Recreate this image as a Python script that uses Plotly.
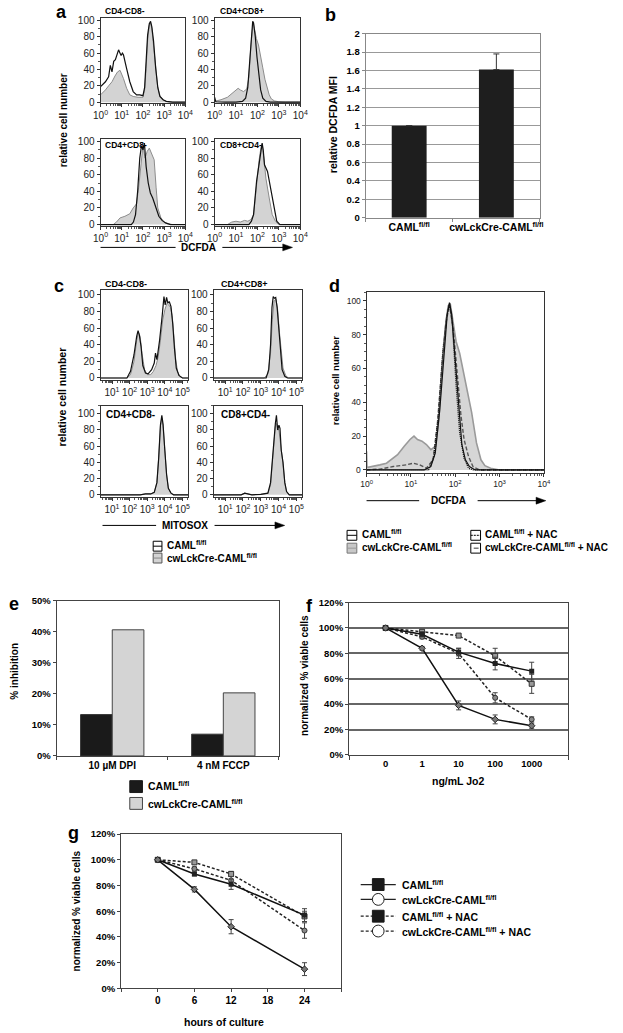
import plotly.graph_objects as go

W, H = 623, 1033
FONT = "Liberation Sans, Arial, Helvetica, sans-serif"

# ======================= DATA =======================
# ---- panel a : DCFDA histograms (x = log10 fluorescence, y = relative cell number)
A_TITLES = ["CD4-CD8-", "CD4+CD8+", "CD4+CD8-", "CD8+CD4-"]
A1_FILL_X = [0, 0.12, 0.23, 0.38, 0.54, 0.68, 0.8, 0.92, 1.08, 1.23, 1.38, 1.54, 1.77, 2.0, 2.08, 2.15, 2.22, 2.3, 2.36, 2.42, 2.5, 2.6, 2.7, 2.8, 2.95, 3.1, 3.4, 4.0]
A1_FILL_Y = [9, 12, 15, 20, 25, 32, 37, 39, 29, 17, 9, 7, 6, 6, 15, 41, 75, 94, 97, 90, 70, 40, 18, 8, 3, 1, 0, 0]
A1_LINE_X = [0, 0.12, 0.23, 0.38, 0.46, 0.54, 0.62, 0.7, 0.78, 0.85, 0.92, 0.97, 1.03, 1.08, 1.23, 1.38, 1.54, 1.7, 1.85, 2.0, 2.08, 2.15, 2.22, 2.3, 2.36, 2.42, 2.5, 2.6, 2.7, 2.8, 2.95, 3.1, 3.4, 4.0]
A1_LINE_Y = [19, 22, 25, 31, 45, 37, 50, 52, 58, 64, 60, 57, 60, 58, 41, 25, 13, 9, 9, 8, 18, 51, 82, 96, 99, 92, 75, 42, 18, 7, 3, 1, 0, 0]

A2_FILL_X = [0, 0.3, 0.6, 0.85, 1.0, 1.1, 1.2, 1.35, 1.5, 1.6, 1.7, 1.76, 1.8, 1.86, 1.95, 2.05, 2.15, 2.25, 2.35, 2.45, 2.55, 2.65, 2.8, 3.0, 3.3, 4.0]
A2_FILL_Y = [1, 3, 6, 11, 15, 17, 15, 13, 16, 30, 70, 95, 98, 90, 78, 70, 58, 42, 28, 17, 9, 4, 1.5, 0.5, 0, 0]
A2_LINE_X = [0, 0.02, 0.06, 0.5, 1.0, 1.3, 1.45, 1.55, 1.65, 1.72, 1.78, 1.82, 1.9, 1.98, 2.05, 2.15, 2.25, 2.4, 2.6, 4.0]
A2_LINE_Y = [6, 2, 0.5, 0, 0, 1, 5, 18, 55, 88, 99, 97, 80, 55, 35, 15, 5, 1, 0, 0]

A3_FILL_X = [0, 0.6, 0.75, 0.92, 1.15, 1.38, 1.54, 1.7, 1.8, 1.9, 2.0, 2.1, 2.2, 2.3, 2.42, 2.53, 2.62, 2.7, 2.85, 3.0, 3.15, 3.4, 4.0]
A3_FILL_Y = [0, 0, 3, 8, 10, 13, 20, 25, 45, 75, 95, 80, 88, 92, 85, 78, 45, 20, 8, 3, 1, 0, 0]
A3_LINE_X = [0, 1.45, 1.55, 1.65, 1.75, 1.85, 1.93, 2.0, 2.07, 2.15, 2.25, 2.35, 2.46, 2.6, 2.75, 2.9, 3.07, 3.3, 4.0]
A3_LINE_Y = [0, 0, 3, 12, 40, 80, 95, 90, 98, 70, 50, 38, 32, 20, 10, 5, 2, 0, 0]

A4_FILL_X = [0, 0.6, 0.8, 1.0, 1.2, 1.4, 1.55, 1.7, 1.82, 1.96, 2.08, 2.16, 2.22, 2.3, 2.4, 2.55, 2.69, 2.84, 3.0, 4.0]
A4_FILL_Y = [0, 0, 3, 4, 3, 5, 4, 6, 12, 50, 78, 92, 97, 80, 55, 32, 12, 4, 0, 0]
A4_LINE_X = [0, 1.6, 1.72, 1.82, 1.96, 2.11, 2.18, 2.22, 2.27, 2.33, 2.47, 2.55, 2.62, 2.76, 2.9, 3.05, 4.0]
A4_LINE_Y = [0, 0, 4, 12, 52, 80, 92, 98, 90, 72, 64, 52, 42, 20, 4, 0, 0]

# ---- panel b : relative DCFDA MFI
B_GROUPS = ["CAML<sup>fl/fl</sup>", "cwLckCre-CAML<sup>fl/fl</sup>"]
B_VALUES = [1.0, 1.61]
B_ERR = [None, 0.17]

# ---- panel c : MITOSOX histograms
C1_FILL_X = [0.35, 1.85, 2.05, 2.25, 2.4, 2.5, 2.6, 2.7, 2.85, 3.0, 3.2, 3.35, 3.5, 3.62, 3.75, 3.88, 4.0, 4.12, 4.22, 4.32, 4.42, 4.52, 4.62, 4.72, 4.85, 5.0, 5.33]
C1_FILL_Y = [0, 0, 4, 20, 45, 55, 50, 30, 10, 4, 4, 8, 15, 25, 45, 70, 82, 90, 88, 85, 75, 50, 22, 8, 2, 0, 0]
C1_LINE_X = [0.35, 1.85, 2.05, 2.25, 2.4, 2.48, 2.55, 2.65, 2.75, 2.9, 3.05, 3.25, 3.4, 3.47, 3.55, 3.7, 3.85, 3.95, 4.02, 4.1, 4.17, 4.25, 4.35, 4.45, 4.55, 4.65, 4.8, 5.0, 5.33]
C1_LINE_Y = [0, 0, 8, 28, 50, 57, 52, 38, 15, 6, 5, 10, 18, 30, 22, 45, 75, 98, 88, 97, 90, 92, 86, 65, 35, 12, 3, 0, 0]

C2_FILL_X = [0.35, 3.2, 3.4, 3.55, 3.65, 3.75, 3.85, 3.95, 4.05, 4.15, 4.25, 4.4, 4.55, 5.33]
C2_FILL_Y = [0, 0, 5, 30, 70, 93, 95, 82, 55, 30, 12, 3, 0, 0]
C2_LINE_X = [0.35, 3.3, 3.45, 3.55, 3.63, 3.7, 3.77, 3.84, 3.92, 4.0, 4.1, 4.2, 4.35, 4.5, 5.33]
C2_LINE_Y = [0, 0, 10, 40, 85, 98, 96, 97, 85, 60, 30, 10, 2, 0, 0]

C3_X = [0.35, 2.6, 2.9, 3.2, 3.4, 3.55, 3.65, 3.75, 3.83, 3.9, 4.0, 4.1, 4.2, 4.35, 4.5, 5.33]
C3_FILL_Y = [0, 0, 1, 1, 3, 15, 45, 85, 95, 85, 55, 25, 8, 2, 0, 0]
C3_LINE_Y = [0, 0, 1, 1, 3, 15, 45, 86, 98, 87, 55, 25, 8, 2, 0, 0]

C4_X = [0.35, 1.9, 2.1, 2.3, 2.5, 3.0, 3.4, 3.55, 3.65, 3.75, 3.82, 3.88, 3.95, 4.02, 4.08, 4.15, 4.25, 4.35, 4.45, 4.6, 5.33]
C4_FILL_Y = [0, 0, 2, 1, 0, 0.5, 2, 12, 40, 72, 85, 88, 82, 80, 70, 55, 38, 15, 4, 0, 0]
C4_LINE_Y = [0, 0, 2, 1, 0, 0.5, 2, 15, 45, 75, 88, 98, 80, 86, 82, 55, 40, 15, 4, 0, 0]

# ---- panel d : DCFDA histograms with NAC
D_FILL_X = [0, 0.01, 0.03, 0.15, 0.3, 0.45, 0.56, 0.7, 0.85, 0.98, 1.07, 1.15, 1.25, 1.35, 1.45, 1.56, 1.63, 1.7, 1.78, 1.84, 1.89, 1.95, 2.02, 2.1, 2.18, 2.26, 2.37, 2.48, 2.58, 2.67, 2.8, 3.0, 4.0]
D_FILL_Y = [11, 2, 1.5, 2, 3, 4, 6, 9, 14, 18, 20, 18, 17, 15, 12, 14, 30, 59, 85, 97, 98, 88, 76, 69, 58, 49, 34, 16, 6, 2.5, 1, 0, 0]
D_CAML_X = [0, 1.3, 1.45, 1.55, 1.65, 1.75, 1.82, 1.87, 1.92, 2.0, 2.08, 2.15, 2.23, 2.32, 2.45, 4.0]
D_CAML_Y = [0, 0, 2, 10, 35, 72, 92, 99, 92, 65, 35, 15, 6, 2, 0, 0]
D_CAMLNAC_X = [0, 0.3, 0.6, 0.9, 1.05, 1.2, 1.35, 1.5, 1.6, 1.72, 1.8, 1.87, 1.95, 2.05, 2.13, 2.2, 2.3, 2.4, 2.55, 4.0]
D_CAMLNAC_Y = [0, 0.5, 2, 3, 4, 3, 1, 6, 28, 68, 88, 98, 85, 55, 32, 18, 8, 2, 0, 0]
D_CWNAC_X = [0, 1.4, 1.52, 1.62, 1.72, 1.8, 1.87, 1.94, 2.02, 2.1, 2.2, 2.3, 2.4, 4.0]
D_CWNAC_Y = [0, 0, 8, 32, 70, 90, 98, 85, 50, 22, 7, 1, 0, 0]

# ---- panel e : % inhibition
E_CATS = ["10 µM DPI", "4 nM FCCP"]
E_CAML = [13.3, 7.0]
E_CW = [40.6, 20.3]

# ---- panel f : viability vs Jo2
F_CATS = ["0", "1", "10", "100", "1000"]
F_CAML = [100, 95, 81, 72, 66]
F_CAML_ERR = [0, 2, 3, 5, 7]
F_CW = [100, 84, 39, 28, 23]
F_CW_ERR = [0, 1.5, 3.5, 3.5, 2]
F_CAML_NAC = [100, 97, 94, 78, 56]
F_CAML_NAC_ERR = [0, 1.5, 1.5, 6, 7.5]
F_CW_NAC = [100, 93, 80, 45, 28]
F_CW_NAC_ERR = [0, 1.5, 4, 4, 2]

# ---- panel g : viability vs time
G_HOURS = [0, 6, 12, 24]
G_TICKS = [0, 6, 12, 18, 24]
G_CAML = [100, 89, 81, 57]
G_CAML_ERR = [0, 1.5, 4, 5]
G_CW = [100, 77, 48, 15]
G_CW_ERR = [0, 2, 5.5, 5]
G_CAML_NAC = [100, 98, 89, 56]
G_CAML_NAC_ERR = [0, 1, 2, 4]
G_CW_NAC = [100, 93, 84, 45]
G_CW_NAC_ERR = [0, 1.5, 3, 6]

LEG_NAMES = ["CAML<sup>fl/fl</sup>", "cwLckCre-CAML<sup>fl/fl</sup>",
             "CAML<sup>fl/fl</sup> + NAC", "cwLckCre-CAML<sup>fl/fl</sup> + NAC"]

# ======================= HELPERS =======================
fig = go.Figure()
layout = {}
shapes = []
annotations = []


def px(x):
    return x / W


def py(y):
    return 1 - y / H


def axname(n):
    return ("x", "y") if n == 1 else (f"x{n}", f"y{n}")


def add_axes(n, x0, x1, y0, y1, xo, yo):
    xa, ya = axname(n)
    layout["xaxis" if n == 1 else f"xaxis{n}"] = dict(domain=[px(x0), px(x1)], anchor=ya, **xo)
    layout["yaxis" if n == 1 else f"yaxis{n}"] = dict(domain=[py(y1), py(y0)], anchor=xa, **yo)


def text(x, y, t, size=10, bold=True, angle=0, xanchor="center", color="black"):
    annotations.append(dict(x=px(x), y=py(y), xref="paper", yref="paper", text=t, showarrow=False,
                            textangle=angle, xanchor=xanchor, yanchor="middle",
                            font=dict(size=size, family=FONT, color=color,
                                      weight="bold" if bold else "normal")))


def hline(x0, x1, y, color="black", width=1, dash="solid"):
    shapes.append(dict(type="line", xref="paper", yref="paper", x0=px(x0), x1=px(x1), y0=py(y), y1=py(y),
                       line=dict(color=color, width=width, dash=dash)))


def rect(x0, x1, y0, y1, fill="white", color="black", width=1):
    shapes.append(dict(type="rect", xref="paper", yref="paper", x0=px(x0), x1=px(x1), y0=py(y1), y1=py(y0),
                       fillcolor=fill, line=dict(color=color, width=width)))


def arrow(x0, x1, xt0, xt1, y, label):
    hline(x0, x1, y, width=1)
    hline(xt0, xt1 - 8, y, width=1)
    path = f"M {px(xt1 - 10)} {py(y - 3.5)} L {px(xt1)} {py(y)} L {px(xt1 - 10)} {py(y + 3.5)} Z"
    shapes.append(dict(type="path", xref="paper", yref="paper", path=path, fillcolor="black",
                       line=dict(color="black", width=0.5)))
    text((x1 + xt0) / 2, y, label, size=10)


def hist(n, xd, yv, kind):
    xa, ya = axname(n)
    xs = [10 ** v for v in xd]
    if kind == "fill":
        fig.add_trace(go.Scatter(x=xs, y=yv, xaxis=xa, yaxis=ya, mode="lines", fill="tozeroy",
                                 fillcolor="#d3d3d3", line=dict(color="#8c8c8c", width=1), showlegend=False))
    elif kind == "fill2":
        fig.add_trace(go.Scatter(x=xs, y=yv, xaxis=xa, yaxis=ya, mode="lines", fill="tozeroy",
                                 fillcolor="#d6d6d6", line=dict(color="#9a9a9a", width=1.6), showlegend=False))
    elif kind == "dash":
        fig.add_trace(go.Scatter(x=xs, y=yv, xaxis=xa, yaxis=ya, mode="lines",
                                 line=dict(color="#555555", width=1.4, dash="4px,2px"), showlegend=False))
    elif kind == "dot":
        fig.add_trace(go.Scatter(x=xs, y=yv, xaxis=xa, yaxis=ya, mode="lines",
                                 line=dict(color="#111111", width=1.3, dash="1px,1px"), showlegend=False))
    else:
        fig.add_trace(go.Scatter(x=xs, y=yv, xaxis=xa, yaxis=ya, mode="lines",
                                 line=dict(color="#111111", width=1.2), showlegend=False))


def minor_vals(lo, hi):
    return [m * 10 ** d for d in range(lo, hi) for m in range(2, 10)]


def hist_axes(n, x0, x1, y0, y1, xrange, tick_exps, yrange, font=10):
    xo = dict(type="log", range=xrange, showline=True, mirror=True, linecolor="#333", linewidth=1,
              ticks="outside", ticklen=3, tickcolor="#333", showgrid=False, zeroline=False,
              tickvals=[10 ** e for e in tick_exps],
              ticktext=[f"10<sup>{e}</sup>" for e in tick_exps],
              tickfont=dict(size=font, family=FONT, color="#222"),
              minor=dict(tickvals=minor_vals(int(xrange[0]) - 1, int(xrange[1]) + 1), ticks="outside",
                         ticklen=2, tickcolor="#555", showgrid=False))
    yo = dict(range=yrange, showline=True, mirror=True, linecolor="#333", linewidth=1, ticks="outside",
              ticklen=3, tickcolor="#333", showgrid=False, zeroline=False, tickvals=[0, 20, 40, 60, 80, 100],
              tickfont=dict(size=font, family=FONT, color="#222"),
              minor=dict(dtick=10, ticks="outside", ticklen=2, tickcolor="#555", showgrid=False))
    add_axes(n, x0, x1, y0, y1, xo, yo)


BOLD9 = dict(size=9.5, family=FONT, color="black", weight="bold")

# ======================= PANEL a =======================
A_BOXES = [(95, 182, 11.7, 98.3), (212, 300, 11.7, 98.3), (95, 182, 134, 222), (212, 300, 134, 222)]
A_DATA = [(A1_FILL_X, A1_FILL_Y, A1_LINE_X, A1_LINE_Y), (A2_FILL_X, A2_FILL_Y, A2_LINE_X, A2_LINE_Y),
          (A3_FILL_X, A3_FILL_Y, A3_LINE_X, A3_LINE_Y), (A4_FILL_X, A4_FILL_Y, A4_LINE_X, A4_LINE_Y)]
for i, (b, d) in enumerate(zip(A_BOXES, A_DATA)):
    n = i + 1
    hist_axes(n, *b, [0, 4], [0, 1, 2, 3, 4], [-1.3, 103.5])
    hist(n, d[0], d[1], "fill")
    hist(n, d[2], d[3], "line")
text(97, 5, A_TITLES[0], size=8.5, xanchor="left")
text(216, 5, A_TITLES[1], size=8.5, xanchor="left")
text(98, 141, A_TITLES[2], size=8.5, xanchor="left")
text(216, 141, A_TITLES[3], size=8.5, xanchor="left")
text(57, 116, "relative cell number", size=10, angle=-90)
arrow(95, 172, 220, 292, 244, "DCFDA")

# ======================= PANEL b =======================
add_axes(5, 367, 546, 28, 214,
         dict(type="category", showline=True, mirror=True, linecolor="#888", linewidth=1, ticks="outside",
              tickson="boundaries", ticklen=3, tickcolor="#888", showgrid=False, tickangle=0,
              tickfont=dict(size=10.5, family=FONT, color="black", weight="bold")),
         dict(range=[0, 2], dtick=0.2, showline=True, mirror=True, linecolor="#888", linewidth=1,
              ticks="outside", ticklen=3, tickcolor="#888", showgrid=True, gridcolor="#999", gridwidth=1,
              zeroline=False, tickfont=BOLD9))
fig.add_trace(go.Bar(x=B_GROUPS, y=B_VALUES, xaxis="x5", yaxis="y5", width=0.4,
                     marker=dict(color="#1e1e1e", line=dict(width=0)), showlegend=False,
                     error_y=dict(type="data", symmetric=False, array=B_ERR, arrayminus=[None, 0],
                                  color="#333", thickness=1, width=3)))
text(333, 120, "relative DCFDA MFI", size=10.5, angle=-90)

# ======================= PANEL c =======================
C_BOXES = [(95, 185, 287, 378), (211, 302, 287, 378), (95, 185, 404, 496), (211, 302, 404, 496)]
C_DATA = [(C1_FILL_X, C1_FILL_Y, C1_LINE_X, C1_LINE_Y), (C2_FILL_X, C2_FILL_Y, C2_LINE_X, C2_LINE_Y),
          (C3_X, C3_FILL_Y, C3_X, C3_LINE_Y), (C4_X, C4_FILL_Y, C4_X, C4_LINE_Y)]
C_YR = [[-2.4, 106], [-2.4, 106], [-2.4, 110], [-2.4, 110]]
for i, (b, d) in enumerate(zip(C_BOXES, C_DATA)):
    n = 6 + i
    hist_axes(n, *b, [0.35, 5.33], [1, 2, 3, 4, 5], C_YR[i])
    hist(n, d[0], d[1], "fill")
    hist(n, d[2], d[3], "line")
text(97, 281, A_TITLES[0], size=9, xanchor="left")
text(217, 281, A_TITLES[1], size=9, xanchor="left")
text(99, 413, A_TITLES[2], size=10, xanchor="left")
text(217, 413, A_TITLES[3], size=10, xanchor="left")
text(55, 395, "relative cell number", size=10.5, angle=-90)
arrow(97, 152, 212, 284, 525, "MITOSOX")
rect(149, 158, 541, 551)
hline(149, 158, 546)
text(161, 545, LEG_NAMES[0], size=10, xanchor="left")
rect(149, 158, 553, 563, fill="#d3d3d3", color="#555")
hline(149, 158, 558, color="#888")
text(161, 558, LEG_NAMES[1], size=10, xanchor="left")

# ======================= PANEL d =======================
hist_axes(10, 368, 550, 289, 472, [0, 4], [0, 1, 2, 3, 4], [-1.8, 105.3], font=8.5)
layout["yaxis10"]["minor"]["dtick"] = 5
hist(10, D_FILL_X, D_FILL_Y, "fill2")
hist(10, D_CAMLNAC_X, D_CAMLNAC_Y, "dash")
hist(10, D_CWNAC_X, D_CWNAC_Y, "dot")
hist(10, D_CAML_X, D_CAML_Y, "line")
text(337, 378, "relative cell number", size=9.5, angle=-90)
arrow(368, 422, 482, 552, 500, "DCFDA")
rect(348, 358, 530, 540)
hline(348, 358, 535)
text(361, 534, LEG_NAMES[0], size=10, xanchor="left")
rect(348, 358, 543, 553, fill="#c8c8c8", color="#777")
hline(348, 358, 548, color="#999")
text(361, 547, LEG_NAMES[1], size=10, xanchor="left")
rect(475, 485, 530, 540)
hline(475, 485, 535, dash="2px,1px")
text(488, 534, LEG_NAMES[2], size=10, xanchor="left")
rect(475, 485, 543, 553)
hline(478, 483, 548, width=0.8)
text(488, 547, LEG_NAMES[3], size=10, xanchor="left")

# ======================= PANEL e =======================
add_axes(11, 50, 278, 601, 758,
         dict(type="category", showline=True, mirror=True, linecolor="#444", linewidth=1, ticks="outside",
              tickson="boundaries", ticklen=3, tickcolor="#444", showgrid=False, tickangle=0,
              tickfont=dict(size=10, family=FONT, color="black", weight="bold")),
         dict(range=[0, 50], dtick=10, ticksuffix="%", showline=True, mirror=True, linecolor="#444",
              linewidth=1, ticks="outside", ticklen=3, tickcolor="#444", showgrid=False, zeroline=False,
              tickfont=BOLD9))
fig.add_trace(go.Bar(x=E_CATS, y=E_CAML, xaxis="x11", yaxis="y11", showlegend=False,
                     marker=dict(color="#1a1a1a", line=dict(color="#333", width=1))))
fig.add_trace(go.Bar(x=E_CATS, y=E_CW, xaxis="x11", yaxis="y11", showlegend=False,
                     marker=dict(color="#d4d4d4", line=dict(color="#444", width=1))))
text(7, 672, "% inhibition", size=10, angle=-90)
rect(125, 138, 783, 795, fill="#1a1a1a", color="#1a1a1a")
text(142, 788, LEG_NAMES[0], size=10.5, xanchor="left")
rect(125, 138, 800, 812, fill="#d4d4d4", color="#444")
text(142, 806, LEG_NAMES[1], size=10.5, xanchor="left")

# ======================= PANEL f =======================
add_axes(12, 350, 575, 603, 757,
         dict(range=[-1, 5], tickvals=list(range(len(F_CATS))), ticktext=F_CATS,
              showline=True, mirror=True, linecolor="#444", linewidth=1, ticks="", showgrid=False,
              zeroline=False, tickfont=BOLD9,
              minor=dict(tickvals=[-1, 5], ticks="outside", ticklen=4, tickcolor="#444", showgrid=False)),
         dict(range=[0, 120], dtick=20, ticksuffix="%", showline=True, mirror=True, linecolor="#444",
              linewidth=1, ticks="outside", ticklen=3, tickcolor="#444", showgrid=True,
              gridcolor="#666", gridwidth=1.5, zeroline=False, tickfont=BOLD9))

SERIES_STYLE = [
    dict(line=dict(color="#111", width=1.5), marker=dict(symbol="square", size=5, color="#222")),
    dict(line=dict(color="#111", width=1.5), marker=dict(symbol="diamond", size=5, color="#777",
                                                          line=dict(color="#222", width=1))),
    dict(line=dict(color="#222", width=1.5, dash="3px,2px"), marker=dict(symbol="square", size=5, color="#999",
                                                                       line=dict(color="#333", width=1))),
    dict(line=dict(color="#222", width=1.5, dash="3px,2px"), marker=dict(symbol="circle", size=5, color="#888",
                                                                       line=dict(color="#333", width=1))),
]
F_X = list(range(len(F_CATS)))
for vals, errs, st in zip([F_CAML_NAC, F_CW_NAC, F_CAML, F_CW],
                          [F_CAML_NAC_ERR, F_CW_NAC_ERR, F_CAML_ERR, F_CW_ERR],
                          [SERIES_STYLE[2], SERIES_STYLE[3], SERIES_STYLE[0], SERIES_STYLE[1]]):
    fig.add_trace(go.Scatter(x=F_X, y=vals, xaxis="x12", yaxis="y12", mode="lines+markers", showlegend=False,
                             error_y=dict(type="data", array=errs, color="#444", thickness=1, width=2.5), **st))
text(305, 677, "normalized % viable cells", size=10, angle=-90)
text(462, 783, "ng/mL Jo2", size=10.5)

# ======================= PANEL g =======================
add_axes(13, 116, 342, 837, 993,
         dict(range=[-6, 30], tickvals=G_TICKS, showline=True, mirror=True, linecolor="#444", linewidth=1,
              ticks="outside", ticklen=3, tickcolor="#444", showgrid=False, zeroline=False,
              tickfont=dict(size=10, family=FONT, color="black", weight="bold"),
              minor=dict(tickvals=[-6, 30], ticks="outside", ticklen=3, tickcolor="#444", showgrid=False)),
         dict(range=[0, 120], dtick=20, ticksuffix="%", showline=True, mirror=True, linecolor="#444",
              linewidth=1, ticks="outside", ticklen=3, tickcolor="#444", showgrid=False, zeroline=False,
              tickfont=BOLD9))
for vals, errs, st in zip([G_CAML_NAC, G_CW_NAC, G_CAML, G_CW],
                          [G_CAML_NAC_ERR, G_CW_NAC_ERR, G_CAML_ERR, G_CW_ERR],
                          [SERIES_STYLE[2], SERIES_STYLE[3], SERIES_STYLE[0], SERIES_STYLE[1]]):
    fig.add_trace(go.Scatter(x=G_HOURS, y=vals, xaxis="x13", yaxis="y13", mode="lines+markers", showlegend=False,
                             error_y=dict(type="data", array=errs, color="#444", thickness=1, width=2.5), **st))
text(70, 915, "normalized % viable cells", size=10, angle=-90)
text(222, 1027, "hours of culture", size=10.5)

# legend g (drawn)
LEG_Y = [888, 903, 920, 935]
for k, yy in enumerate(LEG_Y):
    dash = "solid" if k < 2 else "3px,2px"
    hline(362, 398, yy, color="#222", width=1.2, dash=dash)
    if k % 2 == 0:
        shapes.append(dict(type="rect", xref="paper", yref="paper", x0=px(374), x1=px(386), y0=py(yy + 6),
                           y1=py(yy - 6), fillcolor="#1a1a1a", line=dict(color="#1a1a1a", width=1)))
    else:
        shapes.append(dict(type="circle", xref="paper", yref="paper", x0=px(374), x1=px(386),
                           y0=py(yy + 6), y1=py(yy - 6), fillcolor="white", line=dict(color="#222", width=1)))
    text(402, yy, LEG_NAMES[k], size=10.5, xanchor="left")

# panel letters
for lt, (xx, yy) in zip("abcdefg", [(55, 6), (331, 9), (52, 283), (335, 283), (6, 604), (309, 606), (67, 836)]):
    text(xx, yy, lt, size=18)

layout.update(dict(width=W, height=H, margin=dict(l=0, r=0, t=0, b=0), paper_bgcolor="white",
                   plot_bgcolor="white", showlegend=False, barmode="group", bargap=0.43, bargroupgap=0,
                   font=dict(family=FONT, color="black"), shapes=shapes, annotations=annotations))
fig.update_layout(**layout)
fig.write_html("out.html", config={"displayModeBar": False},
               post_script="document.body.style.margin='0px';")
